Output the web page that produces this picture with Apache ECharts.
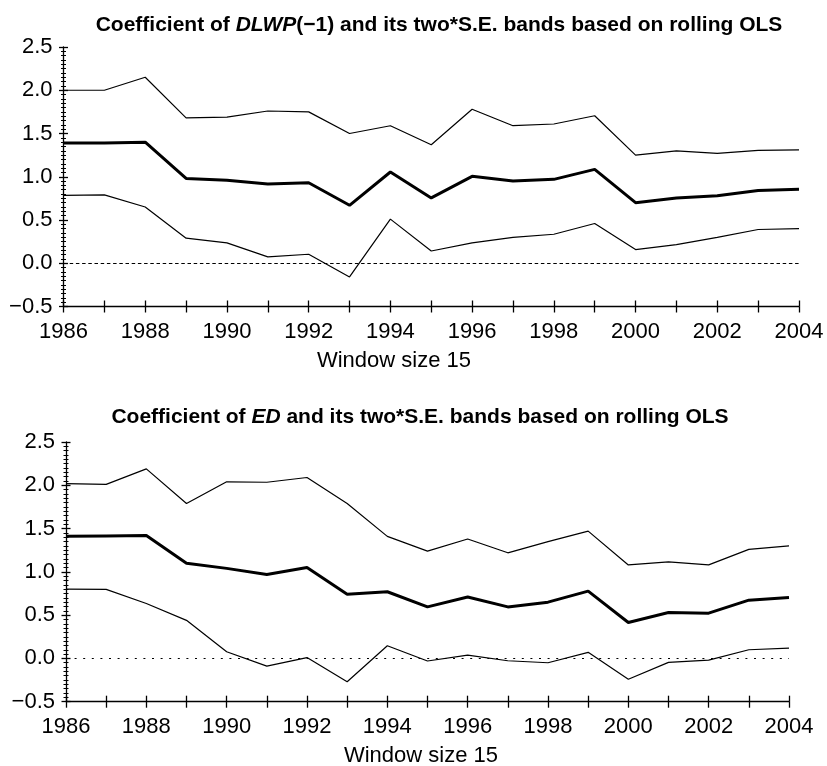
<!DOCTYPE html>
<html>
<head>
<meta charset="utf-8">
<script src="https://cdn.jsdelivr.net/npm/echarts@6/dist/echarts.min.js"></script>
<style>
  html, body { margin: 0; padding: 0; background: #fff; }
  #chart { width: 827px; height: 766px; }
</style>
</head>
<body>
<div id="chart"></div>
<script>
// Rolling-window (15 years) OLS coefficients with +/- two standard error bands
const years = [1986, 1987, 1988, 1989, 1990, 1991, 1992, 1993, 1994, 1995,
               1996, 1997, 1998, 1999, 2000, 2001, 2002, 2003, 2004];

// Coefficient of DLWP(-1)
const dlwpUpper = [2.00, 2.00, 2.15, 1.68, 1.69, 1.76, 1.75, 1.50, 1.59, 1.37,
                   1.78, 1.59, 1.61, 1.705, 1.25, 1.30, 1.27, 1.305, 1.31];
const dlwpCoef  = [1.39, 1.39, 1.40, 0.98, 0.96, 0.915, 0.93, 0.67, 1.055, 0.755,
                   1.005, 0.95, 0.97, 1.085, 0.70, 0.755, 0.78, 0.84, 0.855];
const dlwpLower = [0.785, 0.79, 0.65, 0.29, 0.235, 0.073, 0.104, -0.158, 0.51, 0.142,
                   0.235, 0.30, 0.335, 0.46, 0.158, 0.216, 0.30, 0.39, 0.40];

// Coefficient of ED
const edUpper = [2.02, 2.01, 2.19, 1.79, 2.04, 2.035, 2.09, 1.79, 1.41, 1.24,
                 1.38, 1.22, 1.35, 1.47, 1.08, 1.115, 1.08, 1.26, 1.30];
const edCoef  = [1.41, 1.415, 1.42, 1.10, 1.04, 0.97, 1.05, 0.74, 0.77, 0.595,
                 0.71, 0.595, 0.65, 0.777, 0.415, 0.53, 0.523, 0.673, 0.704];
const edLower = [0.80, 0.797, 0.635, 0.44, 0.077, -0.089, 0.01, -0.27, 0.146, -0.03,
                 0.038, -0.027, -0.05, 0.07, -0.24, -0.046, -0.02, 0.10, 0.12];

const xMin = 1986, xMax = 2004;
const yMin = -0.5, yMax = 2.5, yStep = 0.5;
const xName = 'Window size 15';

const FONT = '"Liberation Sans", Arial, sans-serif';
const INK = '#000';

function pairs(vals) { return years.map((y, i) => [y, vals[i]]); }

function fmtY(v) {
  const s = Math.abs(v).toFixed(1);
  return v < 0 ? '\u2212' + s : s;
}

function xAxes(gridIndex) {
  const base = {
    gridIndex, type: 'value', min: xMin, max: xMax, interval: 1,
    position: 'bottom', splitLine: { show: false }
  };
  return [
    Object.assign({}, base, {
      axisLine: { show: true, onZero: false, lineStyle: { color: INK, width: 1.3 } },
      axisTick: { show: true, length: 6, lineStyle: { color: INK, width: 1.3 } },
      axisLabel: {
        show: true, margin: 14, color: INK, fontFamily: FONT, fontSize: 22,
        formatter: v => (v % 2 === 0 ? String(v) : '')
      }
    }),
    // inward half of the crossing ticks
    Object.assign({}, base, {
      axisLine: { show: false, onZero: false },
      axisTick: { show: true, inside: true, length: 6, lineStyle: { color: INK, width: 1.3 } },
      axisLabel: { show: false }
    })
  ];
}

function yAxes(gridIndex) {
  const base = {
    gridIndex, type: 'value', min: yMin, max: yMax, interval: yStep,
    position: 'left', splitLine: { show: false },
    minorSplitLine: { show: false }
  };
  return [
    Object.assign({}, base, {
      axisLine: { show: true, onZero: false, lineStyle: { color: INK, width: 1.3 } },
      axisTick: { show: true, length: 4.5, lineStyle: { color: INK, width: 1.3 } },
      minorTick: { show: true, splitNumber: 10, length: 2.5, lineStyle: { color: INK, width: 1 } },
      axisLabel: { show: true, margin: 11, color: INK, fontFamily: FONT, fontSize: 22, formatter: fmtY }
    }),
    Object.assign({}, base, {
      axisLine: { show: false, onZero: false },
      axisTick: { show: true, inside: true, length: 4.5, lineStyle: { color: INK, width: 1.3 } },
      minorTick: { show: true, splitNumber: 10, length: 2.5, lineStyle: { color: INK, width: 1 } },
      axisLabel: { show: false }
    })
  ];
}

function line(name, vals, axisIdx, width, zeroDash) {
  const s = {
    name, type: 'line', data: pairs(vals),
    xAxisIndex: axisIdx, yAxisIndex: axisIdx,
    symbol: 'none', smooth: false, animation: false,
    lineStyle: { color: INK, width: width }
  };
  if (zeroDash) {
    s.markLine = {
      silent: true, symbol: 'none', animation: false,
      label: { show: false },
      lineStyle: { color: INK, width: 1, type: zeroDash },
      data: [{ yAxis: 0 }]
    };
  }
  return s;
}

const titleRich = {
  b: { fontFamily: FONT, fontSize: 21, fontWeight: 'bold', fill: INK },
  i: { fontFamily: FONT, fontSize: 21, fontWeight: 'bold', fontStyle: 'italic', fill: INK }
};

function textEl(x, y, text, opts) {
  return {
    type: 'text', x, y, silent: true,
    style: Object.assign({
      text, align: 'center', verticalAlign: 'middle', fill: INK
    }, opts)
  };
}

const option = {
  animation: false,
  backgroundColor: '#fff',
  grid: [
    { left: 63.5, top: 47, width: 735.5, height: 259.5, containLabel: false },
    { left: 66, top: 442, width: 723, height: 259.7, containLabel: false }
  ],
  xAxis: xAxes(0).concat(xAxes(1)),
  yAxis: yAxes(0).concat(yAxes(1)),
  series: [
    line('DLWP upper', dlwpUpper, 0, 1.2, [3.5, 2.7]),
    line('DLWP coefficient', dlwpCoef, 0, 3),
    line('DLWP lower', dlwpLower, 0, 1.2),
    line('ED upper', edUpper, 2, 1.2, [2, 6.6]),
    line('ED coefficient', edCoef, 2, 3),
    line('ED lower', edLower, 2, 1.2)
  ],
  graphic: [
    textEl(439, 25, '{b|Coefficient of }{i|DLWP}{b|(\u22121) and its two*S.E. bands based on rolling OLS}', { rich: titleRich }),
    textEl(394, 361, xName, { font: '22px ' + FONT }),
    textEl(420, 417, '{b|Coefficient of }{i|ED}{b| and its two*S.E. bands based on rolling OLS}', { rich: titleRich }),
    textEl(421, 756, xName, { font: '22px ' + FONT })
  ]
};

const chart = echarts.init(document.getElementById('chart'), null, { renderer: 'canvas' });
chart.setOption(option);
</script>
</body>
</html>
